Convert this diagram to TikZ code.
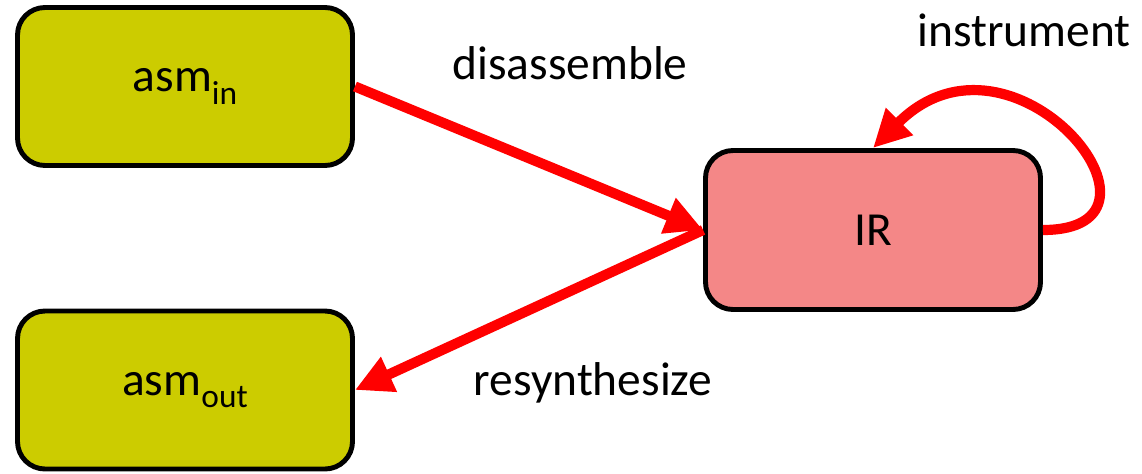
\documentclass[tikz,border=0pt]{standalone}
\usepackage{fontspec}
\setmainfont{Carlito}
\usetikzlibrary{arrows.meta}
\definecolor{asmyellow}{HTML}{CCCC00}
\definecolor{irpink}{HTML}{F48787}
\definecolor{flowred}{HTML}{FF0000}
\newcommand\lowsub[1]{\raisebox{-7pt}{\fontsize{19}{20}\selectfont #1}}

\begin{document}
\begin{tikzpicture}[font=\fontsize{27}{32}\selectfont,
	asm box/.style={draw=black, line width=2.8pt, rounded corners=0.55cm, fill=asmyellow, minimum width=6.7cm, minimum height=3.16cm},
	ir box/.style={asm box, fill=irpink, minimum height=3.18cm},
	flow/.style={draw=flowred, line width=5.8pt, -{Triangle[length=0.75cm,width=0.72cm]}}]
	\useasboundingbox (0,0) rectangle (22.84,9.46);
	\node[asm box] (asmin) at (3.7,7.73) {asm\lowsub{in}};
	\node[asm box] (asmout) at (3.7,1.66) {asm\lowsub{out}};
	\node[ir box] (ir) at (17.46,4.86) {IR};
	\draw[flow] (asmin.east) -- (ir.west);
	\draw[flow] (ir.west) -- (asmout.east);
	\draw[flow] (ir.east) .. controls +(3.0,0) and +(2.8,2.8) .. (ir.north);
	\node (disasm) at (11.4,8.2) {disassemble};
	\node (resynth) at (11.86,1.8) {resynthesize};
	\node (instr) at (20.48,8.86) {instrument};
\end{tikzpicture}
\end{document}
